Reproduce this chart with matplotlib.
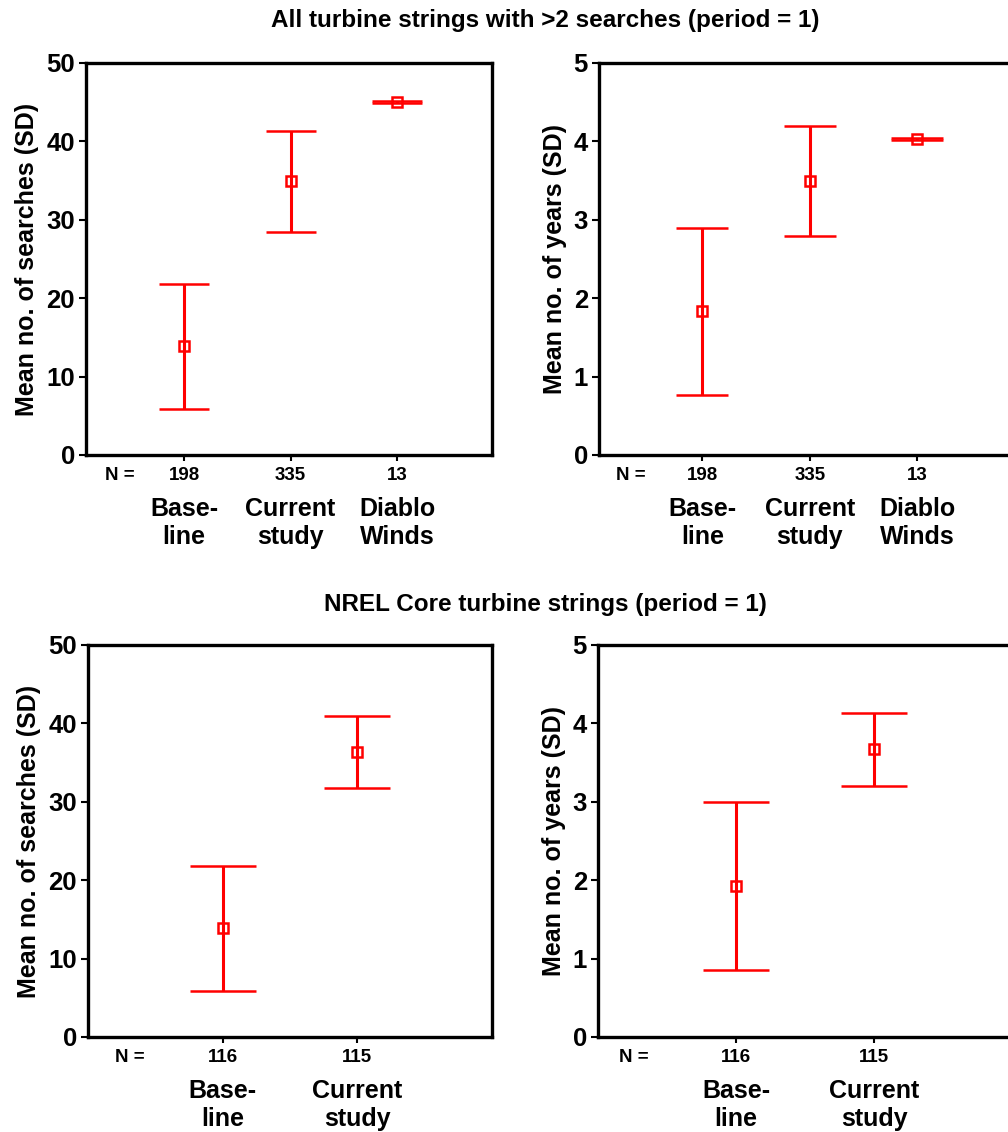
import matplotlib
matplotlib.use('Agg')
import matplotlib.pyplot as plt

plt.rcParams['font.family'] = ['Liberation Sans', 'DejaVu Sans']
plt.rcParams['font.weight'] = 'bold'

# top row: all turbine strings with >2 searches
top_groups = ['Base-\nline', 'Current\nstudy', 'Diablo\nWinds']
top_n = [198, 335, 13]
top_search_mean = [13.9, 34.9, 45.0]
top_search_lo = [5.9, 28.5, 44.9]
top_search_hi = [21.8, 41.3, 45.1]
top_year_mean = [1.84, 3.49, 4.03]
top_year_lo = [0.76, 2.79, 4.017]
top_year_hi = [2.90, 4.20, 4.043]

# bottom row: NREL core turbine strings
bot_groups = ['Base-\nline', 'Current\nstudy']
bot_n = [116, 115]
bot_search_mean = [13.9, 36.3]
bot_search_lo = [5.9, 31.8]
bot_search_hi = [21.8, 40.9]
bot_year_mean = [1.92, 3.67]
bot_year_lo = [0.86, 3.20]
bot_year_hi = [3.00, 4.13]

W, H = 1008, 1132
RED = '#ff0000'


def px_axes(fig, left, top, width, height):
    return fig.add_axes([left / W, 1 - (top + height) / H, width / W, height / H])


def draw_panel(ax, groups, n, mean, lo, hi, ymax, ylabel, xlim, n_x, capsize):
    x = list(range(1, len(groups) + 1))
    yerr = [[m - l for m, l in zip(mean, lo)], [h - m for m, h in zip(mean, hi)]]
    ax.errorbar(x, mean, yerr=yerr, fmt='s', color=RED, ecolor=RED,
                elinewidth=2.2, capthick=2.4, capsize=capsize, barsabove=True,
                markersize=7.5, mfc='white', mec=RED, mew=1.8, zorder=3)
    ax.set_xlim(*xlim)
    ax.set_ylim(0, ymax)
    ax.set_yticks([ymax * i / 5 for i in range(6)])
    if ymax == 5:
        ax.set_yticklabels([str(i) for i in range(6)])
    ax.set_xticks(x)
    ax.set_xticklabels([])
    ax.tick_params(axis='y', length=5, width=1.5, labelsize=18.5, pad=3)
    ax.tick_params(axis='x', length=4, width=1.5)
    for s in ax.spines.values():
        s.set_linewidth(2.4)
    ax.set_ylabel(ylabel, fontsize=18, fontweight='bold', labelpad=5)
    trans = ax.get_xaxis_transform()
    ax.annotate('N =', xy=(n_x, 0), xycoords=trans, xytext=(0, -15),
                textcoords='offset points', ha='center', va='center', fontsize=13.5)
    for xi, ni, g in zip(x, n, groups):
        ax.annotate(str(ni), xy=(xi, 0), xycoords=trans, xytext=(0, -15),
                    textcoords='offset points', ha='center', va='center', fontsize=13.5)
        ax.annotate(g, xy=(xi, 0), xycoords=trans, xytext=(0, -49),
                    textcoords='offset points', ha='center', va='center',
                    fontsize=18, linespacing=1.2)


fig = plt.figure(figsize=(W / 100, H / 100), dpi=100)

ax1 = px_axes(fig, 86, 63, 406, 392)
draw_panel(ax1, top_groups, top_n, top_search_mean, top_search_lo, top_search_hi,
           50, 'Mean no. of searches (SD)', (0.08, 3.89), 0.4, 18)
ax2 = px_axes(fig, 599, 63, 412, 392)
draw_panel(ax2, top_groups, top_n, top_year_mean, top_year_lo, top_year_hi,
           5, 'Mean no. of years (SD)', (0.04, 3.87), 0.34, 19)
ax3 = px_axes(fig, 88, 645, 404, 392)
draw_panel(ax3, bot_groups, bot_n, bot_search_mean, bot_search_lo, bot_search_hi,
           50, 'Mean no. of searches (SD)', (0.0, 3.0), 0.31, 24)
ax4 = px_axes(fig, 598, 645, 414, 392)
draw_panel(ax4, bot_groups, bot_n, bot_year_mean, bot_year_lo, bot_year_hi,
           5, 'Mean no. of years (SD)', (0.0, 3.0), 0.26, 24)

fig.text(545 / W, 1 - 20 / H, 'All turbine strings with >2 searches (period = 1)',
         ha='center', va='center', fontsize=17.5, fontweight='bold')
fig.text(545 / W, 1 - 604 / H, 'NREL Core turbine strings (period = 1)',
         ha='center', va='center', fontsize=17.5, fontweight='bold')

fig.savefig('out.png', dpi=100)
